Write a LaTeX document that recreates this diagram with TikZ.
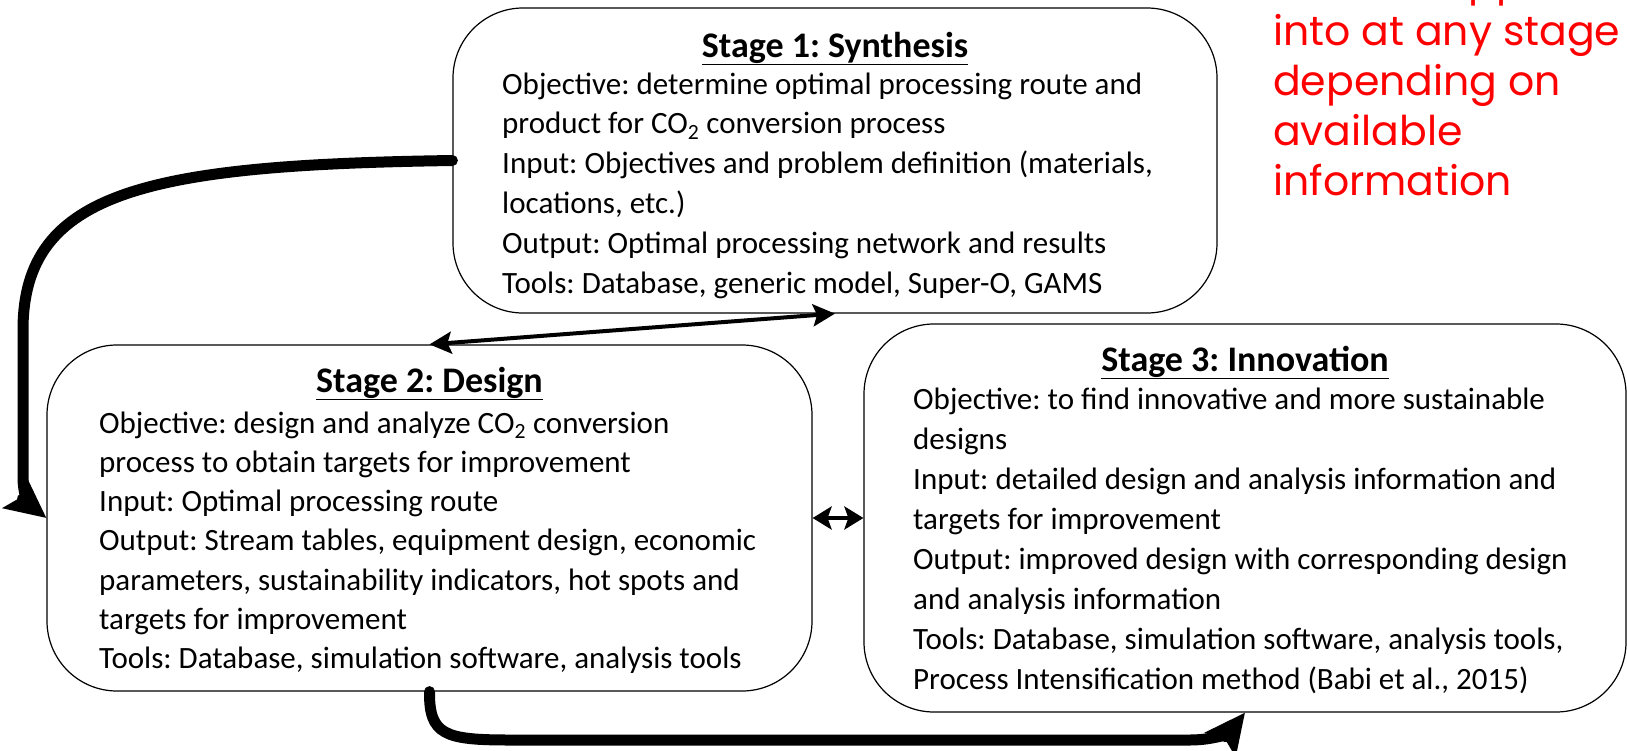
\documentclass[tikz,border=0pt]{standalone}
\usepackage{fontspec}
\setmainfont{Carlito}
\newfontfamily\notefont{Poppins}
\usetikzlibrary{arrows.meta}
\definecolor{notered}{RGB}{255,0,0}
\frenchspacing
\begin{document}
\begin{tikzpicture}[x=1pt,y=-1pt,
  stagebox/.style={draw, line width=1.2pt, rounded corners=70pt, inner sep=0pt},
  titletext/.style={inner sep=0pt, font=\fontsize{36pt}{40pt}\selectfont\bfseries},
  bodytext/.style={inner sep=0pt, font=\fontsize{31pt}{39.8pt}\selectfont},
  notetext/.style={inner sep=0pt, text=notered, font=\notefont\fontsize{41pt}{50pt}\selectfont},
  bigarrow/.style={line width=11pt, line cap=round, -{Stealth[length=40pt, width=38pt, inset=7pt]}},
  link/.style={line width=4pt, {Stealth[length=22pt, width=22pt, inset=4pt]}-{Stealth[length=22pt, width=22pt, inset=4pt]}},
  shortlink/.style={line width=4pt, {Stealth[length=19pt, width=23pt, inset=4pt]}-{Stealth[length=19pt, width=23pt, inset=4pt]}}
]
\useasboundingbox (0,0) rectangle (1627,750);

% boxes
\node[stagebox, minimum width=764pt, minimum height=305pt] (s1) at (835,160.5) {};
\node[stagebox, minimum width=765pt, minimum height=346pt] (s2) at (429.5,518) {};
\node[stagebox, minimum width=762pt, minimum height=388pt] (s3) at (1245,518) {};

% titles
\node[titletext, anchor=base] (t1) at (835,57) {\underline{Stage 1: Synthesis}};
\node[titletext, anchor=base] (t2) at (429.5,392) {\underline{Stage 2: Design}};
\node[titletext, anchor=base] (t3) at (1245,371) {\underline{Stage 3: Innovation}};

% bodies
\node[bodytext, anchor=base west] (b1) at (502,94) {\parbox[t]{700pt}{\raggedright
Objective: determine optimal processing route and\\
product for CO\textsubscript{2} conversion process\\
Input: Objectives and problem definition (materials,\\
locations, etc.)\\
Output: Optimal processing network and results\\
Tools: Database, generic model, Super-O, GAMS}};

\node[bodytext, anchor=base west] (b2) at (99,433) {\parbox[t]{700pt}{\raggedright\baselineskip=39.3pt
Objective: design and analyze CO\textsubscript{2} conversion\\
process to obtain targets for improvement\\
Input: Optimal processing route\\
Output: Stream tables, equipment design, economic\\
parameters, sustainability indicators, hot spots and\\
targets for improvement\\
Tools: Database, simulation software, analysis tools}};

\node[bodytext, anchor=base west] (b3) at (913,409) {\parbox[t]{700pt}{\raggedright\baselineskip=40pt
Objective: to find innovative and more sustainable\\
designs\\
Input: detailed design and analysis information and\\
targets for improvement\\
Output: improved design with corresponding design\\
and analysis information\\
Tools: Database, simulation software, analysis tools,\\
Process Intensification method (Babi et al., 2015)}};

% red note
\begin{scope}
\clip (1200,0) rectangle (1627,12);
\node[notetext, anchor=base west] (n0) at (1253,-5) {can be stepped};
\end{scope}
\node[notetext, anchor=base west] (n1) at (1273,45) {\parbox[t]{360pt}{\raggedright
into at any stage\\
depending on\\
available\\
information}};

% connectors
\draw[bigarrow] (s1.west) .. controls (150,165) and (23,190) .. (23,330)
  -- (23,478) .. controls (23,495) and (30,505) .. (s2.west);
\draw[bigarrow] (s2.south) .. controls (429,735) and (445,740) .. (510,740)
  -- (1190,740) .. controls (1215,740) and (1230,732) .. (s3.south);
\draw[link] (s2.north) -- (s1.south);
\draw[shortlink] (s2.east) -- (s3.west);
\end{tikzpicture}
\end{document}
